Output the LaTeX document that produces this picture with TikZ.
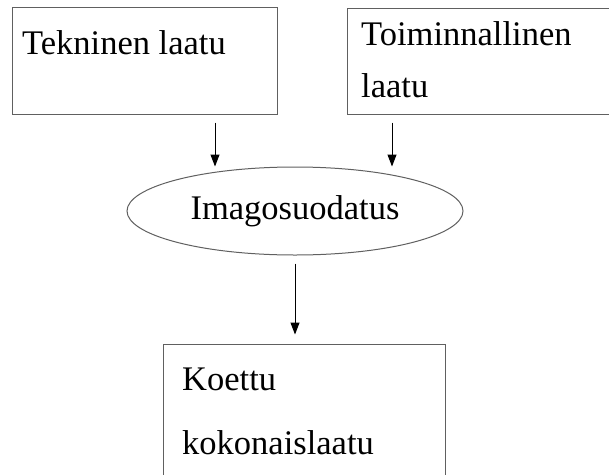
\documentclass[tikz,border=0pt]{standalone}
\usepackage{fontspec}
\setmainfont{Liberation Serif}
\usetikzlibrary{shapes.geometric,arrows.meta}
\begin{document}
\begin{tikzpicture}[
        x=1pt, y=-1pt,
        box/.style={rectangle, draw=gray!75!black, line width=1pt, inner sep=0pt},
        oval/.style={ellipse, draw=gray!75!black, line width=1pt, inner sep=0pt,
                     minimum width=336pt, minimum height=88pt,
                     font=\fontsize{34.5}{40}\selectfont},
        lbl/.style={anchor=base west, inner sep=0pt, font=\fontsize{34.5}{40}\selectfont},
        arrow/.style={-{Triangle[width=9pt,length=12pt]}, black, line width=1pt}
    ]
    \clip (0,0) rectangle (609,474);
    \fill[white] (0,0) rectangle (609,474);
    % Nodes
    \node[box, minimum width=265pt, minimum height=107pt] (tek) at (144.5,60.5) {};
    \node[box, minimum width=265pt, minimum height=106pt] (toim) at (479.5,61) {};
    \node[oval] (imago) at (295,211) {Imagosuodatus};
    \node[box, minimum width=282pt, minimum height=146pt] (koe) at (304,417) {};
    % Labels
    \node[lbl] (tekA) at (22,54) {Tekninen laatu};
    \node[lbl] (toimA) at (361,45) {Toiminnallinen};
    \node[lbl] (toimB) at (361,97) {laatu};
    \node[lbl] (koeA) at (182,390) {Koettu};
    \node[lbl] (koeB) at (182,454) {kokonaislaatu};
    % Edges
    \draw[arrow] ([xshift=70.5pt, yshift=-8pt]tek.south) -- ([xshift=-80pt]imago.north);
    \draw[arrow] ([xshift=-87.5pt, yshift=-8pt]toim.south) -- ([xshift=97pt]imago.north);
    \draw[arrow] ([yshift=-8pt]imago.south) -- ([yshift=9pt]imago.south |- koe.north);
\end{tikzpicture}
\end{document}
